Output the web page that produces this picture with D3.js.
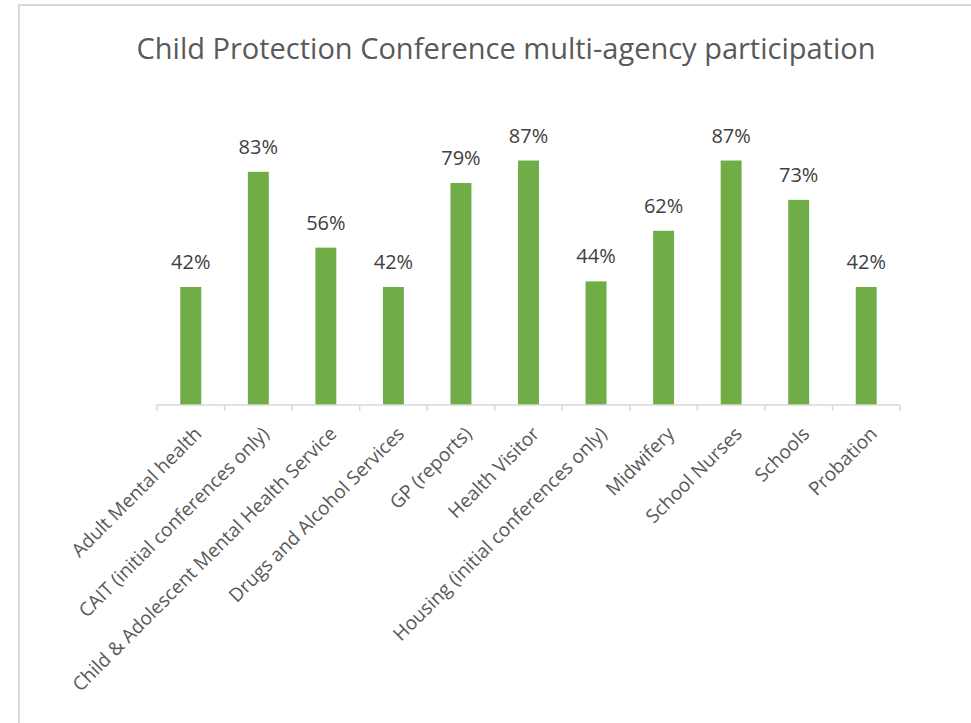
<!DOCTYPE html>
<html>
<head>
<meta charset="utf-8">
<script src="https://cdn.jsdelivr.net/npm/d3@7/dist/d3.min.js"></script>
<style>
  html, body { margin: 0; padding: 0; background: #fff; }
  svg { display: block; font-family: "Open Sans", "Noto Sans", sans-serif; }
</style>
</head>
<body>
<svg id="chart" width="971" height="723"></svg>
<script>
// Agencies attending child protection conferences
const categories = [
  "Adult Mental health",
  "CAIT (initial conferences only)",
  "Child & Adolescent Mental Health Service",
  "Drugs and Alcohol Services",
  "GP (reports)",
  "Health Visitor",
  "Housing (initial conferences only)",
  "Midwifery",
  "School Nurses",
  "Schools",
  "Probation"
];
// Share of conferences with the agency taking part
const participation = [0.42, 0.83, 0.56, 0.42, 0.79, 0.87, 0.44, 0.62, 0.87, 0.73, 0.42];
const titleText = "Child Protection Conference multi-agency participation";

const svg = d3.select("#chart");
const W = 971, H = 723;

// chart-area frame
svg.append("rect")
  .attr("x", 19).attr("y", 5)
  .attr("width", W + 20).attr("height", H + 20)
  .attr("fill", "#fff")
  .attr("stroke", "#d9d9d9")
  .attr("stroke-width", 2);

svg.append("text")
  .attr("x", 506).attr("y", 59)
  .attr("text-anchor", "middle")
  .attr("fill", "#595959")
  .attr("font-size", 29)
  .text(titleText);

const plot = { left: 157, right: 900, top: 124, bottom: 405 };

const x = d3.scaleBand()
  .domain(categories)
  .range([plot.left, plot.right])
  .paddingInner(0.69)
  .paddingOuter(0.345);

const xBoundaries = d3.scaleBand()
  .domain(categories)
  .range([plot.left, plot.right]);

const y = d3.scaleLinear()
  .domain([0, 1])
  .range([plot.bottom, plot.top]);

// bars
svg.append("g")
  .selectAll("rect")
  .data(categories)
  .join("rect")
  .attr("x", d => x(d))
  .attr("width", x.bandwidth())
  .attr("y", (d, i) => y(participation[i]))
  .attr("height", (d, i) => y(0) - y(participation[i]))
  .attr("fill", "#70ad47");

// value labels
svg.append("g")
  .selectAll("text")
  .data(categories)
  .join("text")
  .attr("x", d => x(d) + x.bandwidth() / 2)
  .attr("y", (d, i) => y(participation[i]) - 18)
  .attr("text-anchor", "middle")
  .attr("fill", "#404040")
  .attr("font-size", 20)
  .text((d, i) => d3.format(".0%")(participation[i]));

// category axis: baseline and boundary ticks
const axisG = svg.append("g");
axisG.append("line")
  .attr("x1", plot.left).attr("x2", plot.right)
  .attr("y1", plot.bottom).attr("y2", plot.bottom)
  .attr("stroke", "#d9d9d9").attr("stroke-width", 1.5);

const tickPositions = categories.map(c => xBoundaries(c)).concat([plot.right]);
axisG.selectAll("line.tick")
  .data(tickPositions)
  .join("line")
  .attr("class", "tick")
  .attr("x1", d => d).attr("x2", d => d)
  .attr("y1", plot.bottom).attr("y2", plot.bottom + 6)
  .attr("stroke", "#d9d9d9").attr("stroke-width", 1.5);

axisG.selectAll("text")
  .data(categories)
  .join("text")
  .attr("transform", d => `translate(${x(d) + x.bandwidth() / 2 + 12},${plot.bottom + 30}) rotate(-45)`)
  .attr("text-anchor", "end")
  .attr("fill", "#595959")
  .attr("font-size", 19)
  .text(d => d);
</script>
</body>
</html>
